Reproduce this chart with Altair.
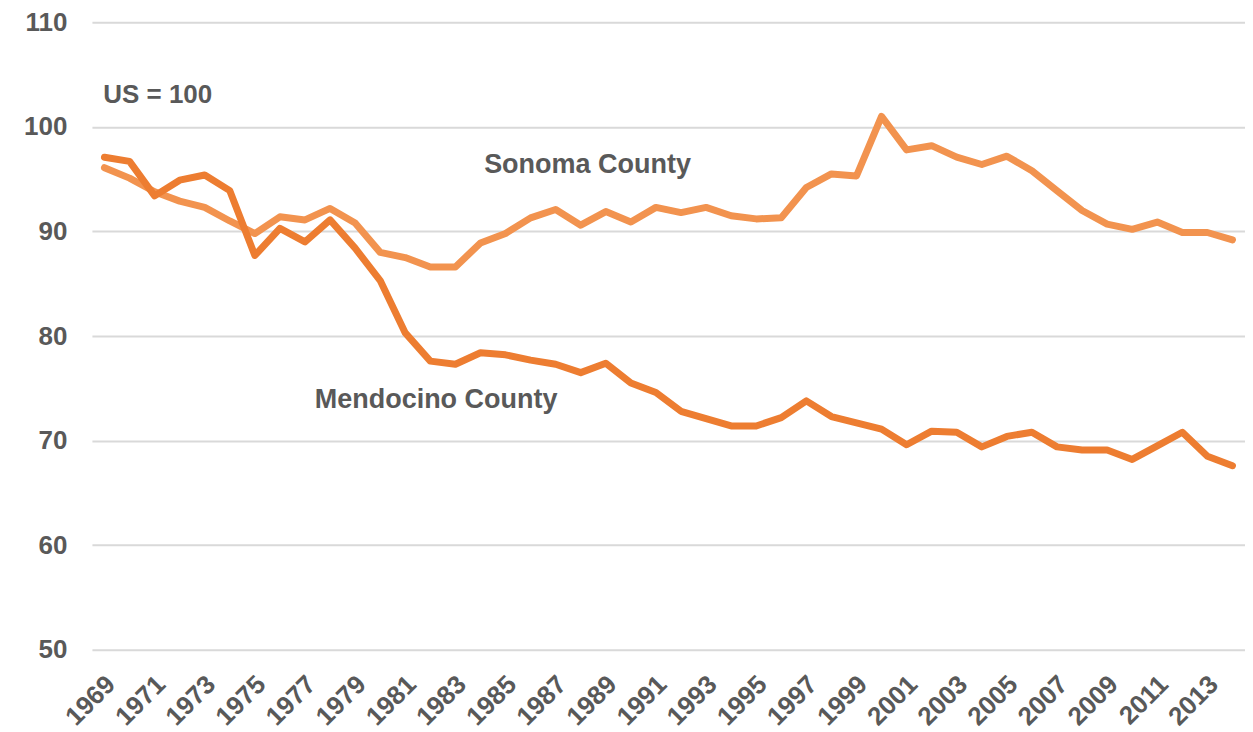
import altair as alt
import pandas as pd

years = list(range(1969, 2015))

sonoma = [96.1, 95.1, 93.8, 92.9, 92.3, 91.0, 89.8, 91.4, 91.1, 92.2,
          90.8, 88.0, 87.5, 86.6, 86.6, 88.9, 89.8, 91.3, 92.1, 90.6,
          91.9, 90.9, 92.3, 91.8, 92.3, 91.5, 91.2, 91.3, 94.2, 95.5,
          95.3, 101.0, 97.8, 98.2, 97.1, 96.4, 97.2, 95.8, 93.9, 92.0,
          90.7, 90.2, 90.9, 89.9, 89.9, 89.2]

mendocino = [97.1, 96.7, 93.4, 94.9, 95.4, 93.9, 87.7, 90.3, 89.0, 91.1,
             88.4, 85.3, 80.3, 77.6, 77.3, 78.4, 78.2, 77.7, 77.3, 76.5,
             77.4, 75.5, 74.6, 72.8, 72.1, 71.4, 71.4, 72.2, 73.8, 72.3,
             71.7, 71.1, 69.6, 70.9, 70.8, 69.4, 70.4, 70.8, 69.4, 69.1,
             69.1, 68.2, 69.5, 70.8, 68.5, 67.6]

label_years = list(range(1969, 2014, 2))
y_ticks = [50, 60, 70, 80, 90, 100, 110]

series_names = ["Sonoma County", "Mendocino County"]
series_colors = ["#F2934F", "#ED7D31"]

df = pd.DataFrame({
    "year": years * 2,
    "value": sonoma + mendocino,
    "series": ["Sonoma County"] * len(years) + ["Mendocino County"] * len(years),
})

notes = pd.DataFrame({
    "x": [1968.95, 1988.27, 1982.23],
    "y": [103.05, 96.4, 73.9],
    "text": ["US = 100", "Sonoma County", "Mendocino County"],
    "align": ["left", "center", "center"],
})

x_scale = alt.Scale(domain=[1968.5, 2014.5], nice=False, zero=False)
y_scale = alt.Scale(domain=[50, 110], nice=False, zero=False)

lines = alt.Chart(df).mark_line(strokeWidth=7, strokeJoin="round", strokeCap="round").encode(
    x=alt.X("year:Q", scale=x_scale,
            axis=alt.Axis(values=label_years, format="d", title=None, grid=False,
                          domain=False, ticks=False, labelAngle=-45, labelAlign="right",
                          labelBaseline="top", labelPadding=21, labelOffset=-3,
                          labelFont="Liberation Sans", labelFontWeight="bold",
                          labelFontSize=26, labelColor="#595959", labelOverlap=False)),
    y=alt.Y("value:Q", scale=y_scale,
            axis=alt.Axis(values=y_ticks, title=None, grid=True, gridColor="#D9D9D9",
                          gridWidth=2, domain=False, ticks=False, labelPadding=25,
                          labelFont="Liberation Sans", labelFontWeight="bold",
                          labelFontSize=26, labelColor="#595959")),
    color=alt.Color("series:N", scale=alt.Scale(domain=series_names, range=series_colors),
                    legend=None),
    order=alt.Order("year:Q"),
)

texts_left = alt.Chart(notes[notes["align"] == "left"]).mark_text(
    align="left", baseline="middle", font="Liberation Sans", fontWeight="bold",
    fontSize=26, color="#595959"
).encode(x=alt.X("x:Q", scale=x_scale), y=alt.Y("y:Q", scale=y_scale), text="text:N")

texts_center = alt.Chart(notes[notes["align"] == "center"]).mark_text(
    align="center", baseline="middle", font="Liberation Sans", fontWeight="bold",
    fontSize=27, color="#595959"
).encode(x=alt.X("x:Q", scale=x_scale), y=alt.Y("y:Q", scale=y_scale), text="text:N")

chart = alt.layer(lines, texts_left, texts_center).properties(
    width=1154, height=628,
    autosize=alt.AutoSizeParams(type="none"),
    padding={"left": 84, "top": 14, "right": 0, "bottom": 80},
    background="white",
).configure_view(stroke=None)

chart.save("out.html", embed_options={"renderer": "svg", "actions": False})
